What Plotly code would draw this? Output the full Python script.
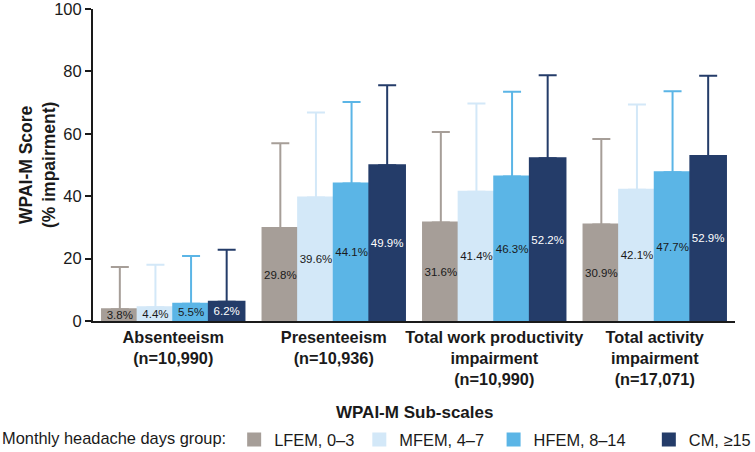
import plotly.graph_objects as go

categories = ["Absenteeism<br>(n=10,990)", "Presenteeism<br>(n=10,936)",
              "Total work productivity<br>impairment<br>(n=10,990)",
              "Total activity<br>impairment<br>(n=17,071)"]
groups = ["LFEM, 0–3", "MFEM, 4–7", "HFEM, 8–14", "CM, ≥15"]
means = {
    "LFEM, 0–3": [3.8, 29.8, 31.6, 30.9],
    "MFEM, 4–7": [4.4, 39.6, 41.4, 42.1],
    "HFEM, 8–14": [5.5, 44.1, 46.3, 47.7],
    "CM, ≥15": [6.2, 49.9, 52.2, 52.9],
}
sds = {
    "LFEM, 0–3": [13.5, 27.2, 29.0, 27.4],
    "MFEM, 4–7": [13.6, 27.2, 28.3, 27.3],
    "HFEM, 8–14": [15.3, 26.1, 27.2, 25.9],
    "CM, ≥15": [16.6, 25.7, 26.6, 25.7],
}
colors = ["#A69E98", "#D3E8F8", "#5BB5E6", "#243C69"]
text_colors = ["#1a1a1a", "#1a1a1a", "#1a1a1a", "#ffffff"]
# trailing no-break spaces only widen legend spacing (invisible)
legend_pad = [0, 1, 4, 0]

fig = go.Figure()
for g, c, tc, pad in zip(groups, colors, text_colors, legend_pad):
    fig.add_trace(go.Bar(
        name=g + "\u00a0" * pad, x=categories, y=means[g],
        marker=dict(color=c, line=dict(width=2, color=c)),
        text=[f"{v:.1f}%" for v in means[g]],
        textposition="inside", insidetextanchor="middle", textangle=0,
        textfont=dict(family="Arial, Liberation Sans", size=11.5, color=tc),
        error_y=dict(type="data", array=sds[g], arrayminus=[0]*4, symmetric=False,
                     color=c, thickness=2, width=9),
    ))

fig.update_layout(
    width=755, height=452,
    margin=dict(l=93, r=20, t=9, b=131, autoexpand=False),
    barmode="group", bargap=0.1125, bargroupgap=0,
    plot_bgcolor="white", paper_bgcolor="white",
    font=dict(family="Arial, Liberation Sans", color="#1a1a1a"),
    uniformtext=dict(minsize=11.5, mode="show"),
    showlegend=True,
    legend=dict(orientation="h", xref="container", yref="container",
                x=0.0, xanchor="left", y=0.027, yanchor="middle",
                font=dict(size=16.4),
                title=dict(text="Monthly headache days group:", side="left", font=dict(size=16.4)),
                itemwidth=30, tracegroupgap=0),
    xaxis=dict(showline=True, linecolor="#1a1a1a", linewidth=2, ticks="",
               tickfont=dict(size=16.3, weight="bold"), range=[-0.5, 3.5], automargin=False),
    yaxis=dict(range=[0, 100], tickvals=[0, 20, 40, 60, 80, 100], showgrid=False,
               showline=True, linecolor="#1a1a1a", linewidth=2, ticks="outside",
               ticklen=6, tickwidth=2, tickcolor="#1a1a1a", tickfont=dict(size=16.5),
               ticklabeloverflow="allow", zeroline=False, automargin=False),
    annotations=[
        dict(text="<b>WPAI-M Score<br>(% impairment)</b>", textangle=-90,
             xref="paper", yref="paper", x=-0.0872, y=0.5, xanchor="center", yanchor="middle",
             showarrow=False, font=dict(size=17.5)),
        dict(text="<b>WPAI-M Sub-scales</b>", xref="paper", yref="paper",
             x=0.5, y=-0.2917, xanchor="center", yanchor="middle",
             showarrow=False, font=dict(size=17)),
    ],
)

fig.write_html("out.html", config={"displayModeBar": False},
               post_script="document.body.style.margin='0';")
